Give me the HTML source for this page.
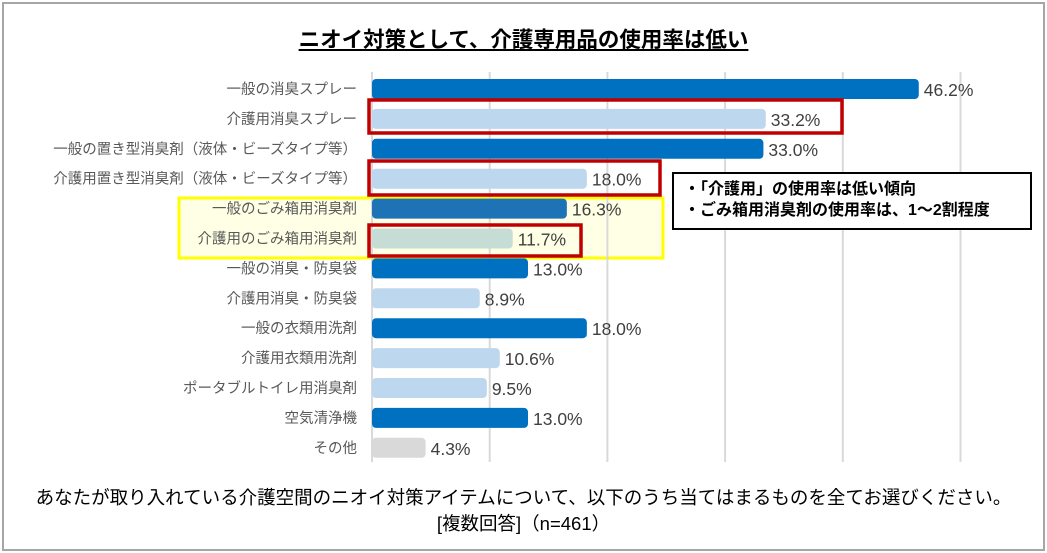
<!DOCTYPE html>
<html><head><meta charset="utf-8"><style>
body{margin:0;width:1047px;height:553px;background:#fff;overflow:hidden;font-family:"Liberation Sans","Noto Sans CJK JP",sans-serif}
#frame{position:absolute;left:2px;top:2px;width:1039px;height:545px;border:2px solid #a6a6a6}
#title{position:absolute;left:0;width:1047px;top:23px;text-align:center;font-size:21.5px;font-weight:bold;text-decoration:underline;color:#000}
.foot{position:absolute;left:0;width:1047px;text-align:center;font-size:18.5px;color:#000}
#callout{position:absolute;left:672px;top:172px;width:356px;height:54px;border:2px solid #000;background:#fff;font-weight:bold;font-size:16px;line-height:21px;box-sizing:content-box;white-space:nowrap}
#callout div{padding-left:10px}
</style></head><body>
<div id="frame"></div>
<div id="title">ニオイ対策として、介護専用品の使用率は低い</div>
<svg id="chart" width="1047" height="553" style="position:absolute;left:0;top:0"></svg>
<div id="callout"><div style="margin-top:5px">・「介護用」の使用率は低い傾向</div><div>・ごみ箱用消臭剤の使用率は、1～2割程度</div></div>
<div class="foot" style="top:484px">あなたが取り入れている介護空間のニオイ対策アイテムについて、以下のうち当てはまるものを全てお選びください。</div>
<div class="foot" style="top:510px">[複数回答]（n=461）</div>
<script>
const categories=["一般の消臭スプレー","介護用消臭スプレー","一般の置き型消臭剤（液体・ビーズタイプ等）","介護用置き型消臭剤（液体・ビーズタイプ等）","一般のごみ箱用消臭剤","介護用のごみ箱用消臭剤","一般の消臭・防臭袋","介護用消臭・防臭袋","一般の衣類用洗剤","介護用衣類用洗剤","ポータブルトイレ用消臭剤","空気清浄機","その他"];
const values=[46.2,33.2,33.0,18.0,16.3,11.7,13.0,8.9,18.0,10.6,9.5,13.0,4.3];
const colors=["#0070C0","#BDD7EE","#0070C0","#BDD7EE","#1E73B6","#C6DDD6","#0070C0","#BDD7EE","#0070C0","#BDD7EE","#BDD7EE","#0070C0","#D9D9D9"];
const gridTicks=[0,10,20,30,40,50];
const NS="http://www.w3.org/2000/svg";
const svg=document.getElementById('chart');
const x0=372,scale=11.77;
const xs=v=>x0+v*scale;
const yc=i=>89+i*29.9;
function mk(t,a){const e=document.createElementNS(NS,t);for(const k in a)e.setAttribute(k,a[k]);svg.appendChild(e);return e;}
let yb=mk('rect',{x:179,y:198,width:484,height:60,fill:'#FFFFE6',stroke:'#FFFF00','stroke-width':3});


gridTicks.forEach(t=>{
 const l=mk('line',{x1:xs(t),x2:xs(t),y1:72,y2:462,stroke:'#d9d9d9','stroke-width':2});
 
 
});
categories.forEach((c,i)=>{
 const y=yc(i);
 const w=values[i]*scale+3;
 const b=mk('rect',{x:x0,y:y-10,width:w,height:20,rx:4,fill:colors[i]});
 
 
 const lt=mk('text',{x:357,y:y+5,'text-anchor':'end','font-size':14.5,fill:'#595959'});
 lt.textContent=c;
 
 
 const vt=mk('text',{x:x0+w+5,y:y+7,'font-size':17.5,fill:'#404040'});
 vt.textContent=values[i].toFixed(1)+'%';
 
 
});
[[369,100,473,33],[369,161,291,34],[369,225,212,31]].forEach((r,k)=>{
 const e=mk('rect',{x:r[0],y:r[1],width:r[2],height:r[3],fill:'none',stroke:'#C00000','stroke-width':3.5});
 
 
});
</script>
</body></html>
